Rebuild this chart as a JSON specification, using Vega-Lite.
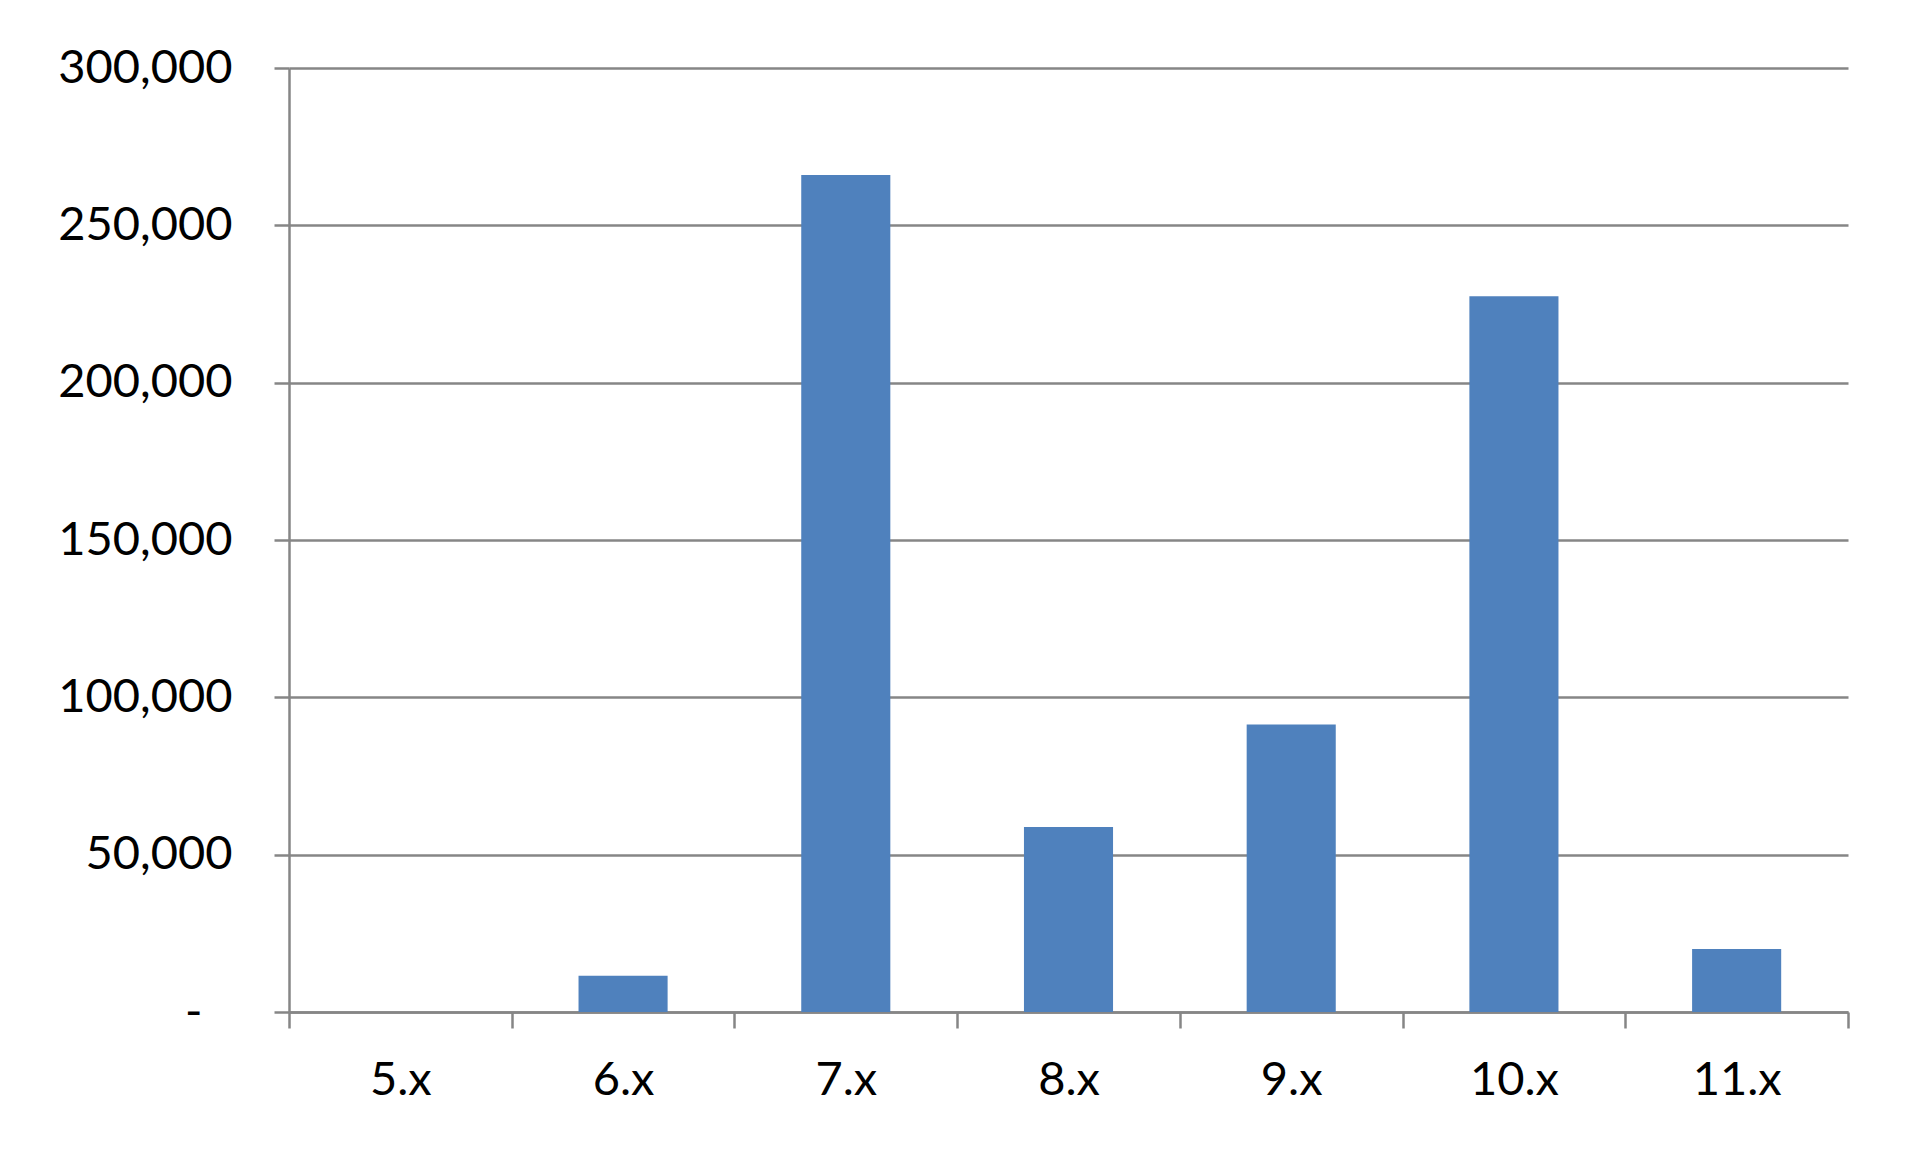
{
  "$schema": "https://vega.github.io/schema/vega-lite/v6.json",
  "autosize": {"type": "none"},
  "width": 1559,
  "height": 944,
  "padding": {"left": 289, "top": 68, "right": 72, "bottom": 144},
  "background": "white",
  "data": {
    "values": [
      {"version": "5.x", "count": 0},
      {"version": "6.x", "count": 11500},
      {"version": "7.x", "count": 266000},
      {"version": "8.x", "count": 58800},
      {"version": "9.x", "count": 91400},
      {"version": "10.x", "count": 227500},
      {"version": "11.x", "count": 20000}
    ]
  },
  "mark": {"type": "bar", "color": "#4F81BD", "width": {"band": 0.4}},
  "encoding": {
    "x": {
      "field": "version",
      "type": "nominal",
      "sort": null,
      "scale": {"paddingInner": 0, "paddingOuter": 0},
      "axis": {
        "title": null,
        "labelAngle": 0,
        "tickBand": "extent",
        "tickSize": 16,
        "labelPadding": 29,
        "grid": false
      }
    },
    "y": {
      "field": "count",
      "type": "quantitative",
      "scale": {"domain": [0, 300000], "nice": false},
      "axis": {
        "title": null,
        "values": [0, 50000, 100000, 150000, 200000, 250000, 300000],
        "labelExpr": "datum.value == 0 ? '-' : format(datum.value, ',')",
        "tickSize": 15,
        "labelPadding": {"condition": {"test": "datum.value == 0", "value": 72}, "value": 42},
        "grid": true
      }
    }
  },
  "config": {
    "view": {"stroke": null},
    "axis": {
      "domainColor": "#868686",
      "domainWidth": 2.5,
      "tickColor": "#868686",
      "tickWidth": 2.5,
      "gridColor": "#868686",
      "gridWidth": 2.5,
      "gridOpacity": 1,
      "labelFont": "Lato",
      "labelFontSize": 47,
      "labelColor": "#000000"
    }
  }
}
